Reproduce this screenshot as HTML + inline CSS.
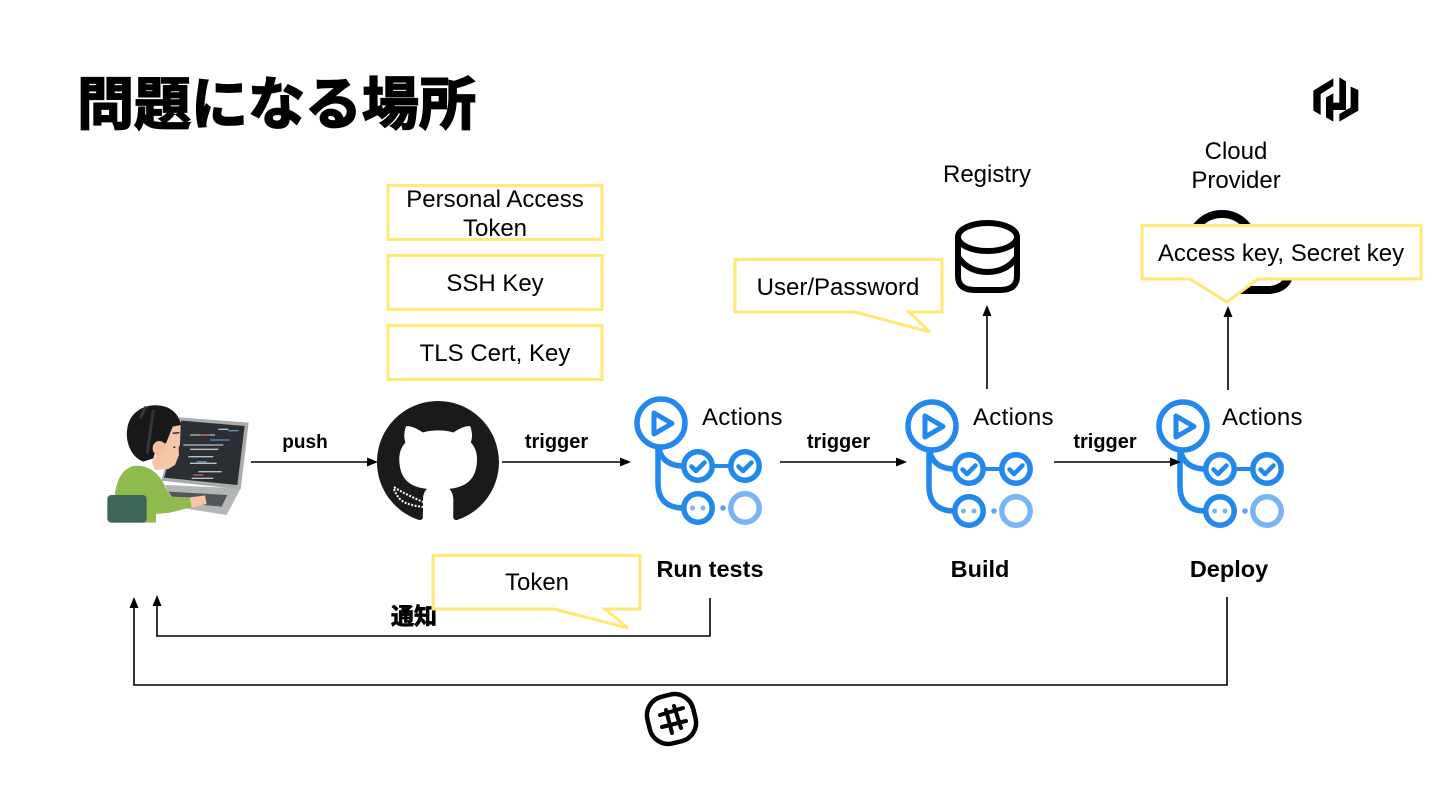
<!DOCTYPE html>
<html><head><meta charset="utf-8"><style>
html,body{margin:0;padding:0;background:#fff;width:1440px;height:810px;overflow:hidden}
svg{display:block}
text{font-family:"Liberation Sans","Noto Sans CJK JP",sans-serif;fill:#000}
.t{font-size:24px}
.a{font-size:24px;letter-spacing:.3px}
.b{font-size:19px;font-weight:bold}
.g{font-size:20px;font-weight:bold}
.l{font-size:23.500px;font-weight:bold}
.y{fill:#fff;stroke:#fde974;stroke-width:3}
.c{fill:none;stroke:#000;stroke-width:1.6}
.blue{fill:none;stroke:#2188ee;stroke-width:5.5}
</style></head><body>
<svg width="1440" height="810" viewBox="0 0 1440 810" xmlns="http://www.w3.org/2000/svg">
<defs>
<g id="act">
  <path d="M658 446V483Q658 508 684 508M659 449Q663 466 684 466" fill="none" stroke="#2188ee" stroke-width="5.500"/>
  <path d="M711 466H732" fill="none" stroke="#2188ee" stroke-width="4"/>
  <circle cx="661" cy="423" r="24" fill="#fff" stroke="#2188ee" stroke-width="5.500"/>
  <path d="M654 413L672 423.500L654 434Z" fill="none" stroke="#2188ee" stroke-width="5" stroke-linejoin="round"/>
  <circle cx="698" cy="466" r="14.200" class="blue"/>
  <circle cx="745" cy="466" r="14.200" class="blue"/>
  <circle cx="698" cy="508" r="14.200" class="blue"/>
  <circle cx="745" cy="508" r="14.200" fill="none" stroke="#79b4f5" stroke-width="5.500"/>
  <path d="M691.500 466.500L696 471L704.500 462.500M738.500 466.500L743 471L751.500 462.500" fill="none" stroke="#2188ee" stroke-width="4.500" stroke-linecap="round" stroke-linejoin="round"/>
  <circle cx="692.500" cy="508" r="2.500" fill="#79b4f5"/><circle cx="703" cy="508" r="2.500" fill="#79b4f5"/>
  <circle cx="723" cy="508" r="2.800" fill="#5ea3f2"/>
</g>
</defs>

<text x="77" y="124" font-size="57" font-weight="bold" stroke="#000" stroke-width="1.800">問題になる場所</text>

<!-- HashiCorp -->
<g transform="translate(1300,70) scale(.3333)" fill="#000">
  <path d="M40 62L100 25V48L62 72V135L40 122Z"/>
  <path d="M78 82L100 70V98H118V22L138 34V120H100V155L78 142Z"/>
  <path d="M175 60V122L118 155V132L152 112V50Z"/>
</g>

<!-- Person -->
<g transform="translate(90,390) scale(.3333)">
  <path d="M225 285L452 295L410 375L250 350Z" fill="#b4b6b6"/>
  <path d="M235 305L412 315L395 350L260 338Z" fill="#50565a"/>
  <path d="M268 82L476 98L452 298L214 272Z" fill="#a9abac"/>
  <path d="M274 92L464 108L442 285L222 263Z" fill="#2b2e33"/>
  <g stroke-width="4" fill="none">
    <path d="M385 118H415M300 135H375M280 165H400M300 178H385M295 200H370M300 220H380M325 245H395M305 265H370" stroke="#b7c2c8"/>
    <path d="M415 122H445M360 150H420M320 215H350" stroke="#5f8fc0"/>
    <path d="M330 135H360M310 255H340" stroke="#c96a5a"/>
  </g>
  <path d="M75 398V310Q85 240 130 228Q185 222 218 275L240 320L305 322L310 350L240 368L198 372V398Z" fill="#8fba4d"/>
  <path d="M300 322L345 316L350 342L305 352Z" fill="#f6c6a6"/>
  <path d="M185 215L225 155L248 110L272 105L270 165L266 172L267 195L255 225L235 237L195 240Z" fill="#f6c6a6"/>
  <path d="M160 215C120 200 105 150 112 115C120 60 175 35 225 50C250 58 268 78 273 105L248 110L228 160L205 158L190 205Z" fill="#17181a"/>
  <path d="M150 85L168 50M172 190L190 60" stroke="#34363a" stroke-width="9" fill="none"/>
  <ellipse cx="208" cy="175" rx="20" ry="22" fill="#f4bfa0"/>
  <path d="M248 130L268 128M250 172L256 172" stroke="#222" stroke-width="4" fill="none"/>
  <rect x="52" y="315" width="118" height="83" rx="12" fill="#3f6459"/>
</g>

<!-- GitHub -->
<g transform="translate(377,401) scale(7.625)">
  <path fill="#1b1a1a" fill-rule="evenodd" d="M8 0C3.58 0 0 3.58 0 8c0 3.54 2.29 6.53 5.47 7.59.4.07.55-.17.55-.38 0-.19-.01-.82-.01-1.49-2.01.37-2.53-.49-2.69-.94-.09-.23-.48-.94-.82-1.13-.28-.15-.68-.52-.01-.53.63-.01 1.08.58 1.23.82.72 1.21 1.87.87 2.33.66.07-.52.28-.87.51-1.07-1.78-.2-3.64-.89-3.64-3.95 0-.87.31-1.59.82-2.15-.08-.2-.36-1.02.08-2.12 0 0 .67-.21 2.2.82.64-.18 1.32-.27 2-.27.68 0 1.36.09 2 .27 1.53-1.04 2.2-.82 2.2-.82.44 1.1.16 1.92.08 2.12.51.56.82 1.27.82 2.15 0 3.07-1.87 3.75-3.65 3.95.29.25.54.73.54 1.48 0 1.07-.01 1.93-.01 2.2 0 .21.15.46.55.38A8.013 8.013 0 0016 8c0-4.42-3.58-8-8-8z"/>
</g>
<path d="M388 485L410 485L423 493V512L405 512L388 497Z" fill="#1b1a1a"/>
<path d="M394 487Q400 491 406 494T423 502M394 489Q398 500 406 503T423 507" fill="none" stroke="#fff" stroke-width="2" stroke-dasharray="2 1.500"/>

<use href="#act"/>
<use href="#act" transform="translate(271,3)"/>
<use href="#act" transform="translate(522,3)"/>

<!-- Registry DB -->
<g fill="none" stroke="#000" stroke-width="6">
  <ellipse cx="987.500" cy="237" rx="29.500" ry="14"/>
  <path d="M958 237V276Q958 290 975 290H1000Q1017 290 1017 276V237M958 257C965 267 975 272 987.500 272S1010 267 1017 257"/>
</g>

<!-- Cloud -->
<path d="M1190 246A32 32 0 0 1 1254 246M1225 290H1270Q1288 288 1290 272" fill="none" stroke="#000" stroke-width="8"/>

<!-- Connectors -->
<g class="c">
  <path d="M251 462H370M502 462H623M780 462H899M1054 462H1173M987 389V313M1228 390V314"/>
  <path d="M710 598V636H157V603M1227 597V685H134V605"/>
</g>
<g fill="#000">
  <path d="M378 462L367 457.500V466.500ZM631 462L620 457.500V466.500ZM907 462L896 457.500V466.500ZM1181 462L1170 457.500V466.500Z"/>
  <path d="M987 305L982.500 316H991.500ZM1228 306L1223.500 317H1232.500ZM157 595L152.500 606H161.500ZM134 597L129.500 608H138.500Z"/>
</g>

<!-- Labels -->
<g text-anchor="middle">
  <text class="b" x="305" y="448">push</text>
  <text class="g" x="556.500" y="448">trigger</text>
  <text class="g" x="838.500" y="448">trigger</text>
  <text class="g" x="1105" y="448">trigger</text>
  <text class="l" x="710" y="577">Run tests</text>
  <text class="l" x="980" y="577">Build</text>
  <text class="l" x="1229" y="577">Deploy</text>
  <text class="t" x="987" y="182">Registry</text>
  <text class="t" x="1236" y="159">Cloud</text>
  <text class="t" x="1236" y="188">Provider</text>
  <text x="414" y="624" font-size="23" font-weight="bold" stroke="#000" stroke-width=".8">通知</text>
</g>
<text class="a" x="702" y="425">Actions</text>
<text class="a" x="973" y="425">Actions</text>
<text class="a" x="1222" y="425">Actions</text>

<!-- Yellow notes -->
<rect class="y" x="388" y="185.500" width="214" height="54"/>
<rect class="y" x="388" y="255.500" width="214" height="54"/>
<rect class="y" x="388" y="325.500" width="214" height="54"/>
<path class="y" d="M735 259.500H942V312H909L930 332L855 312H735Z"/>
<path class="y" d="M1142 225.500H1421V279H1258L1227 302L1190 279H1142Z"/>
<path class="y" d="M433 555.500H640V609H605L628 628L554 609H433Z"/>
<g text-anchor="middle">
  <text class="t" x="495" y="207">Personal Access</text>
  <text class="t" x="495" y="236">Token</text>
  <text class="t" x="495" y="291">SSH Key</text>
  <text class="t" x="495" y="361">TLS Cert, Key</text>
  <text class="t" x="838" y="295">User/Password</text>
  <text class="t" x="1281" y="261">Access key, Secret key</text>
  <text class="t" x="537" y="590">Token</text>
</g>

<!-- Slack -->
<rect x="648" y="695" width="47" height="48" rx="19" fill="none" stroke="#000" stroke-width="4.500" transform="rotate(-14 671.500 719)"/>
<path d="M660 715L683 708M662 727L686 721M666 710L672 733M674 706L681 728" fill="none" stroke="#000" stroke-width="4" stroke-linecap="round"/>
</svg>
</body></html>
